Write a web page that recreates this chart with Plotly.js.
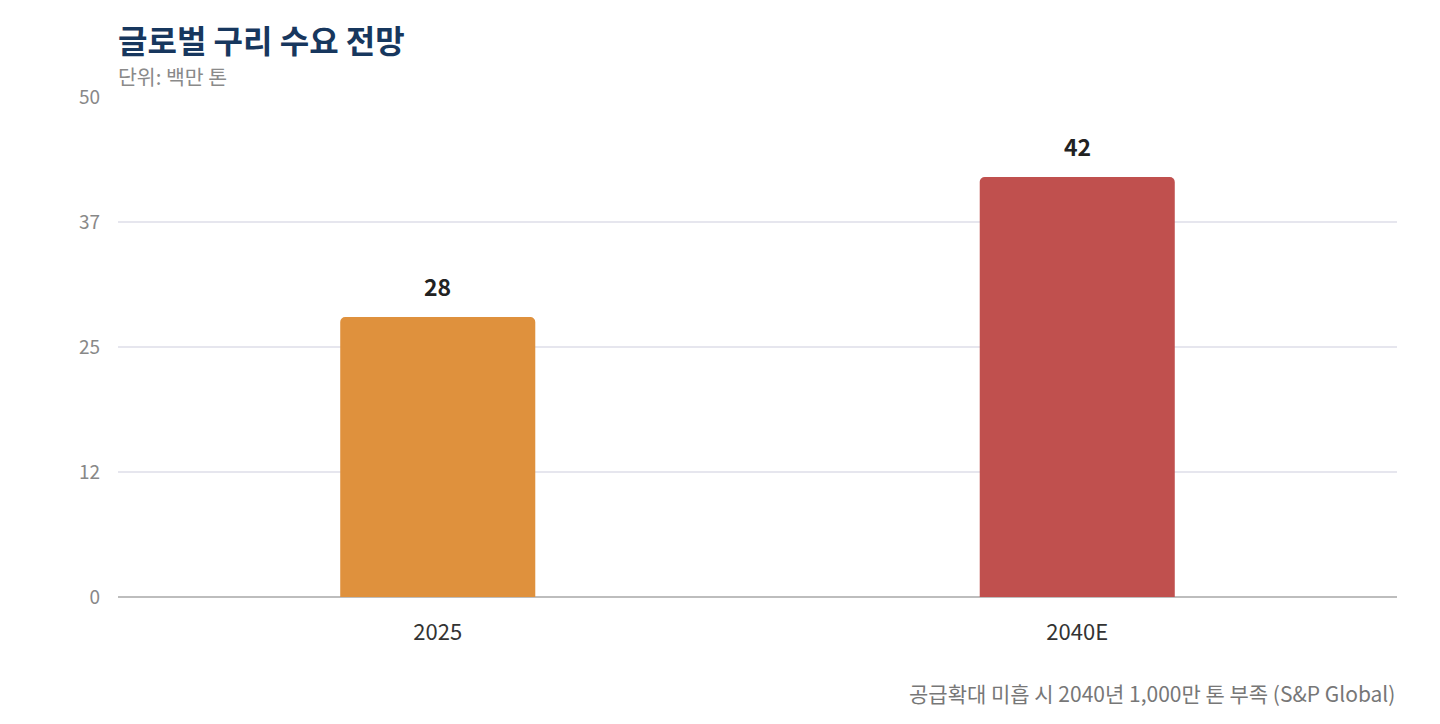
<!DOCTYPE html>
<html>
<head>
<meta charset="utf-8">
<script src="https://cdn.plot.ly/plotly-3.0.1.min.js"></script>
<style>
  html, body { margin: 0; padding: 0; background: #fff; }
  #chart { width: 1440px; height: 724px; }
</style>
</head>
<body>
<div id="chart"></div>
<script>
// data
const years = ['2025', '2040E'];
const demand = [28, 42];
const barColors = ['#DF913D', '#C0504E'];
const tickValues = [0, 12.5, 25, 37.5, 50];
const tickLabels = ['0', '12', '25', '37', '50'];

const font = '"Noto Sans CJK KR", "Noto Sans", sans-serif';

const trace = {
  type: 'bar',
  x: years,
  y: demand,
  marker: { color: barColors, cornerradius: 5 },
  hoverinfo: 'x+y'
};

// value labels above each bar (x given as category index)
const labels = years.map((yr, i) => ({
  x: i, y: demand[i], xref: 'x', yref: 'y',
  text: String(demand[i]),
  showarrow: false, yanchor: 'bottom', yshift: 12,
  font: { family: font, size: 23, color: '#222', weight: 700 }
}));

const layout = {
  width: 1440,
  height: 724,
  margin: { l: 118, r: 43, t: 97, b: 127 },
  paper_bgcolor: '#fff',
  plot_bgcolor: '#fff',
  font: { family: font },
  bargap: 0.695,
  showlegend: false,
  title: {
    text: '<b>글로벌 구리 수요 전망</b>',
    x: 118 / 1440, xanchor: 'left', xref: 'container',
    y: 1 - 42 / 724, yanchor: 'middle', yref: 'container',
    font: { family: font, size: 32, color: '#17375E' }
  },
  xaxis: {
    type: 'category',
    range: [-0.5, years.length - 0.5],
    showgrid: false,
    showline: false,
    ticks: '',
    tickfont: { family: font, size: 22, color: '#333' },
    ticklabelstandoff: 20,
    fixedrange: true
  },
  yaxis: {
    range: [0, 50],
    tickvals: tickValues,
    ticktext: tickLabels,
    showgrid: true,
    gridcolor: '#E6E6EE',
    gridwidth: 2,
    zeroline: true,
    zerolinecolor: '#BDBDBD',
    zerolinewidth: 2,
    showline: false,
    ticks: '',
    ticklabelstandoff: 17,
    tickfont: { family: font, size: 19, color: '#888' },
    fixedrange: true
  },
  annotations: labels.concat([
    {
      text: '단위: 백만 톤',
      xref: 'paper', yref: 'paper', x: 0, y: 1,
      xanchor: 'left', yanchor: 'bottom', yshift: 4, xshift: -2,
      showarrow: false,
      font: { family: font, size: 20.5, color: '#8A8A8A' }
    },
    {
      text: '공급확대 미흡 시 2040년 1,000만 톤 부족 (S&P Global)',
      xref: 'paper', yref: 'paper', x: 1, y: 0,
      xanchor: 'right', yanchor: 'middle', yshift: -96,
      showarrow: false,
      font: { family: font, size: 21, color: '#777' }
    }
  ])
};

Plotly.newPlot('chart', [trace], layout, { displayModeBar: false, responsive: false });
</script>
</body>
</html>
